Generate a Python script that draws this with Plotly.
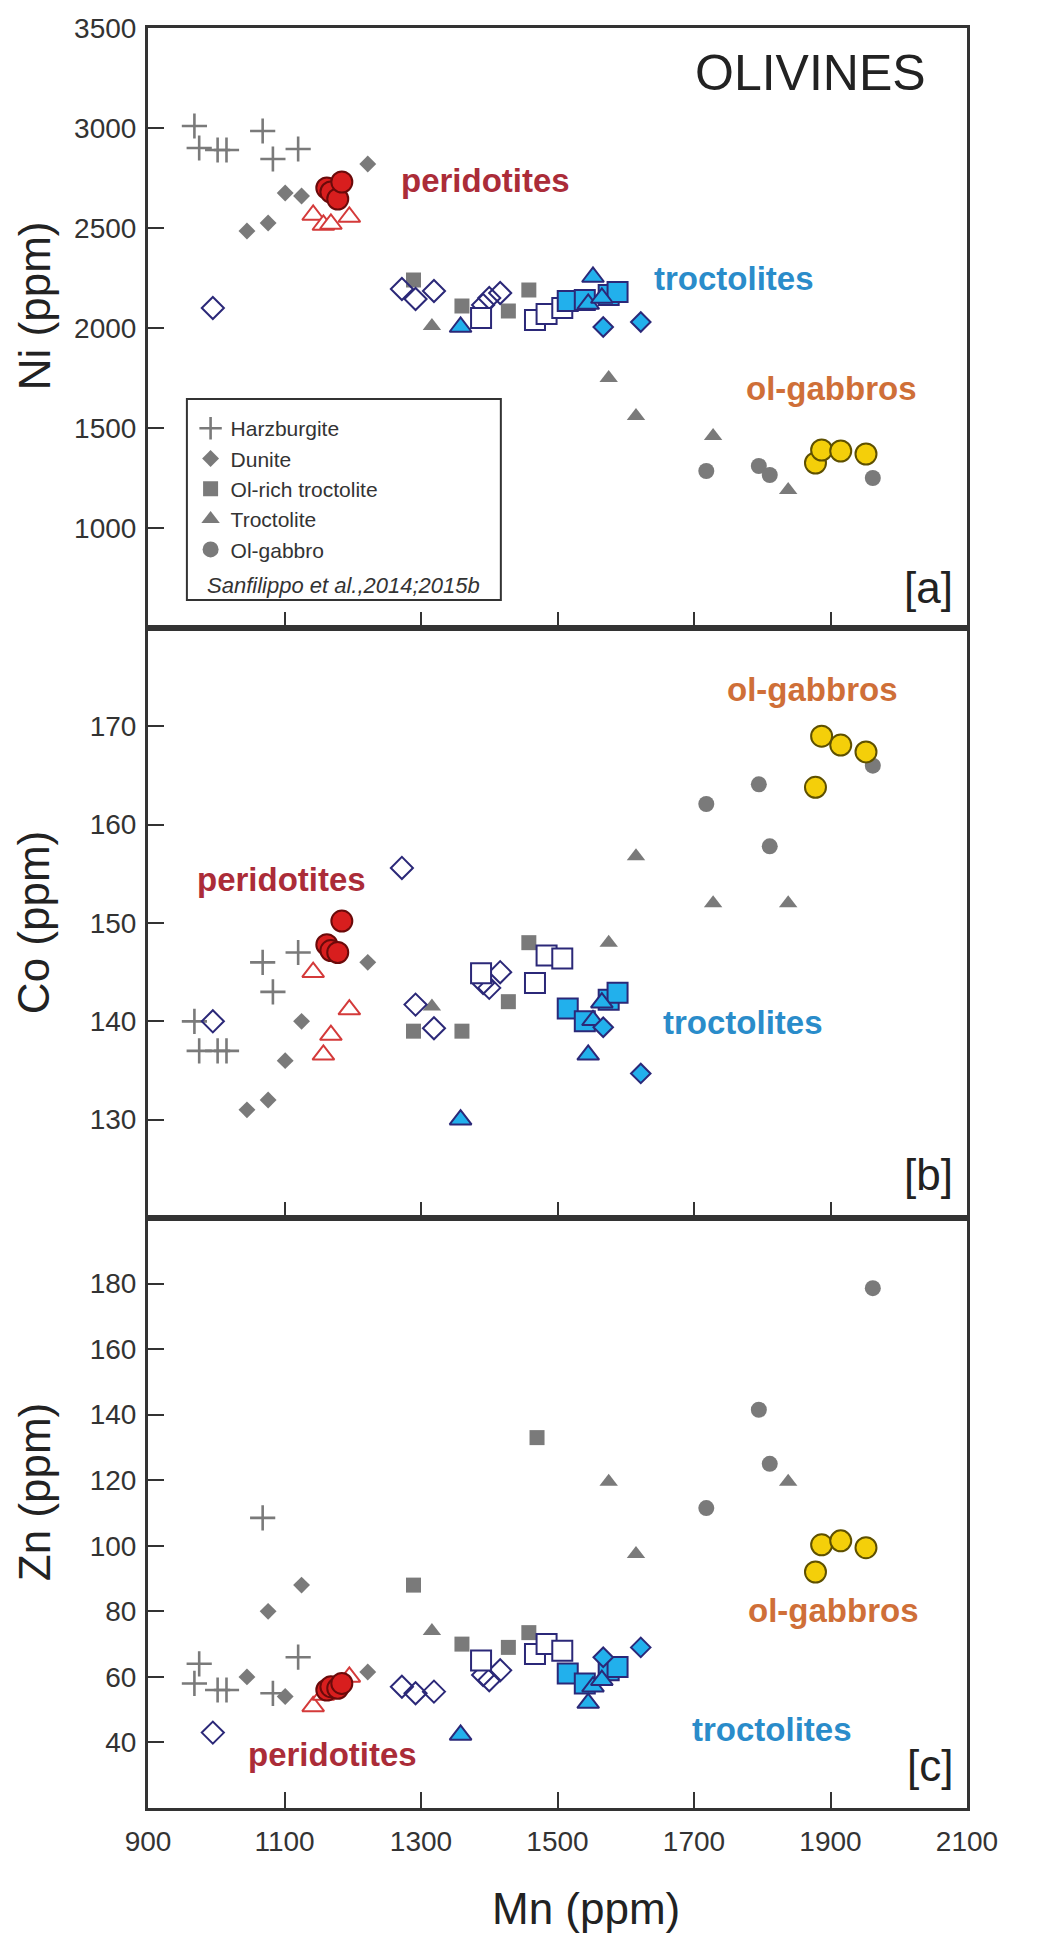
import plotly.graph_objects as go
from plotly.subplots import make_subplots

# ---- Literature olivines (grey symbols, Sanfilippo et al. 2014; 2015b) ----
harz_mn = [968, 975, 1002, 1015, 1068, 1083, 1120]
harz_ni = [3010, 2900, 2890, 2890, 2985, 2845, 2895]
harz_co = [140, 137, 137, 137, 146, 143, 147]
harz_zn = [58, 64, 56, 56, 108.5, 55, 66]

dun_mn = [1045, 1076, 1101, 1125, 1222]
dun_ni = [2485, 2525, 2675, 2660, 2820]
dun_co = [131, 132, 136, 140, 146]
dun_zn = [60, 80, 54, 88, 61.5]

olt_mn = [1289, 1360, 1428, 1458, 1470]
olt_ni = [2240, 2110, 2085, 2190, None]
olt_co = [139, 139, 142, 148, None]
olt_zn = [88, 70, 69, 73.5, 133]

tro_mn = [1316, 1575, 1615, 1728, 1838]
tro_ni = [2010, 1750, 1560, 1460, 1190]
tro_co = [141.5, 148, 156.8, 152, 152]
tro_zn = [74, 119.5, 97.5, None, 119.5]

olg_mn = [1718, 1795, 1811, 1962]
olg_ni = [1285, 1310, 1265, 1250]
olg_co = [162.1, 164.1, 157.8, 166]
olg_zn = [111.5, 141.5, 125, 178.6]

# ---- Studied samples (coloured symbols) ----
per_circ_mn = [1162, 1168, 1178, 1184]
per_circ_ni = [2700, 2680, 2645, 2730]
per_circ_co = [147.8, 147.2, 147, 150.2]
per_circ_zn = [56, 57, 56.5, 58]

per_tri_mn = [1142, 1157, 1168, 1195]
per_tri_ni = [2565, 2515, 2520, 2555]
per_tri_co = [145, 136.6, 138.6, 141.2]
per_tri_zn = [51, 54.5, 57, 60]

nd_mn = [995, 1272, 1292, 1319, 1391, 1400, 1416]
nd_ni = [2100, 2195, 2145, 2185, 2115, 2150, 2175]
nd_co = [140, 155.6, 141.7, 139.3, 143.9, 143.4, 145]
nd_zn = [43, 57, 55, 55.5, 60.6, 59, 62]

nsq_mn = [1388, 1467, 1484, 1507]
nsq_ni = [2050, 2040, 2070, 2100]
nsq_co = [144.9, 143.9, 146.7, 146.4]
nsq_zn = [65, 67, 70, 68]

bsq_mn = [1515, 1540, 1575, 1588]
bsq_ni = [2135, 2140, 2165, 2180]
bsq_co = [141.3, 140.0, 142.2, 142.9]
bsq_zn = [61, 58, 62, 63]

btri_mn = [1358, 1545, 1552, 1565]
btri_ni = [2005, 2120, 2255, 2150]
btri_co = [130, 136.6, 140.1, 141.9]
btri_zn = [42.3, 52, 57, 59]

bdia_mn = [1567, 1622]
bdia_ni = [2005, 2030]
bdia_co = [139.4, 134.7]
bdia_zn = [66, 69]

gab_mn = [1878, 1887, 1915, 1952]
gab_ni = [1325, 1390, 1385, 1370]
gab_co = [163.8, 169, 168.1, 167.4]
gab_zn = [92, 100.3, 101.5, 99.4]

GREY = "#7a7a7a"
NAVY = "#2b2878"
LIGHTBLUE = "#22b0ec"
RED = "#d81e1e"
DARKRED = "#6a0a0a"
YELLOW = "#f4cf0a"
OLIVE = "#5e5000"
AX = "#333333"
FONT = "Liberation Sans, Arial, sans-serif"

fig = make_subplots(rows=3, cols=1, vertical_spacing=0, row_heights=[600, 590, 590])

grey_sets = [
    ("Harzburgite", harz_mn, [harz_ni, harz_co, harz_zn],
     dict(symbol="cross-thin-open", size=18, color=GREY, line=dict(color=GREY, width=2.6))),
    ("Dunite", dun_mn, [dun_ni, dun_co, dun_zn],
     dict(symbol="diamond", size=13, color=GREY, line=dict(width=0))),
    ("Ol-rich troctolite", olt_mn, [olt_ni, olt_co, olt_zn],
     dict(symbol="square", size=15, color=GREY, line=dict(width=0))),
    ("Troctolite", tro_mn, [tro_ni, tro_co, tro_zn],
     dict(symbol="triangle-up", size=16, color=GREY, line=dict(width=0))),
    ("Ol-gabbro", olg_mn, [olg_ni, olg_co, olg_zn],
     dict(symbol="circle", size=16, color=GREY, line=dict(width=0))),
]

sample_sets = [
    (nd_mn, [nd_ni, nd_co, nd_zn],
     dict(symbol="diamond-open", size=17, color=NAVY, line=dict(color=NAVY, width=2))),
    (nsq_mn, [nsq_ni, nsq_co, nsq_zn],
     dict(symbol="square", size=20, color="white", line=dict(color=NAVY, width=2))),
    (bsq_mn, [bsq_ni, bsq_co, bsq_zn],
     dict(symbol="square", size=20, color=LIGHTBLUE, line=dict(color=NAVY, width=2))),
    (btri_mn, [btri_ni, btri_co, btri_zn],
     dict(symbol="triangle-up", size=19, color=LIGHTBLUE, line=dict(color=NAVY, width=2))),
    (bdia_mn, [bdia_ni, bdia_co, bdia_zn],
     dict(symbol="diamond", size=15, color=LIGHTBLUE, line=dict(color=NAVY, width=2))),
    (per_tri_mn, [per_tri_ni, per_tri_co, per_tri_zn],
     dict(symbol="triangle-up", size=19, color="white", line=dict(color="#d43a3a", width=2))),
    (per_circ_mn, [per_circ_ni, per_circ_co, per_circ_zn],
     dict(symbol="circle", size=21, color=RED, line=dict(color=DARKRED, width=2))),
    (gab_mn, [gab_ni, gab_co, gab_zn],
     dict(symbol="circle", size=21, color=YELLOW, line=dict(color=OLIVE, width=2))),
]

for name, mn, ys, mk in grey_sets:
    for row in range(3):
        fig.add_trace(go.Scatter(x=mn, y=ys[row], mode="markers", name=name,
                                 legendgroup=name, showlegend=(row == 0),
                                 marker=mk, hoverinfo="skip"), row=row + 1, col=1)

for mn, ys, mk in sample_sets:
    for row in range(3):
        fig.add_trace(go.Scatter(x=mn, y=ys[row], mode="markers", showlegend=False,
                                 marker=mk, hoverinfo="skip"), row=row + 1, col=1)

y_ranges = [[500, 3500], [120, 180], [20, 200]]
y_ticks = [[1000, 1500, 2000, 2500, 3000, 3500], [130, 140, 150, 160, 170],
           [40, 60, 80, 100, 120, 140, 160, 180]]

for row in range(3):
    fig.update_xaxes(range=[900, 2100], tickvals=list(range(900, 2101, 200)),
                     ticks="inside", ticklen=16, tickwidth=2, tickcolor=AX,
                     showline=True, linecolor=AX, linewidth=3, mirror=True,
                     showgrid=False, zeroline=False,
                     showticklabels=(row == 2), ticklabelstandoff=6,
                     tickfont=dict(family=FONT, size=28, color=AX),
                     row=row + 1, col=1)
    fig.update_yaxes(range=y_ranges[row], tickvals=y_ticks[row],
                     ticks="inside", ticklen=16, tickwidth=2, tickcolor=AX,
                     showline=True, linecolor=AX, linewidth=3, mirror=True,
                     showgrid=False, zeroline=False, ticklabelstandoff=3,
                     tickfont=dict(family=FONT, size=28, color=AX),
                     row=row + 1, col=1)

PER = "#ab2c38"
TRO = "#2a8cca"
GAB = "#cf6f38"

def label(text, x, y, row, color, size=33, bold=True, anchor="center", italic=False):
    suffix = "" if row == 1 else str(row)
    t = "<b>%s</b>" % text if bold else text
    if italic:
        t = "<i>%s</i>" % t
    fig.add_annotation(text=t, x=x, y=y, xref="x" + suffix, yref="y" + suffix,
                       showarrow=False, xanchor=anchor, yanchor="middle",
                       font=dict(family=FONT, size=size, color=color))

# panel [a]
label("peridotites", 1395, 2740, 1, PER)
label("troctolites", 1759, 2250, 1, TRO)
label("ol-gabbros", 1902, 1700, 1, GAB)
label("OLIVINES", 2043, 3275, 1, "#222222", size=50, bold=False, anchor="right")
label("[a]", 2082, 705, 1, "#222222", size=44, bold=False, anchor="right")
label("Sanfilippo et al.,2014;2015b", 1187, 712, 1, "#333333", size=22, bold=False, italic=True)
# panel [b]
label("ol-gabbros", 1874, 173.7, 2, GAB)
label("peridotites", 1095, 154.4, 2, PER)
label("troctolites", 1772, 139.9, 2, TRO)
label("[b]", 2082, 124.4, 2, "#222222", size=44, bold=False, anchor="right")
# panel [c]
label("ol-gabbros", 1904, 80.4, 3, GAB)
label("peridotites", 1171, 36.2, 3, PER)
label("troctolites", 1815, 43.8, 3, TRO)
label("[c]", 2082, 33, 3, "#222222", size=44, bold=False, anchor="right")

# legend frame
fig.add_shape(type="rect", xref="x", yref="y", x0=957, x1=1417, y0=640, y1=1645,
              line=dict(color=AX, width=2), fillcolor="rgba(0,0,0,0)", layer="below")

# axis titles
for text, yp in [("Ni (ppm)", 0.8438), ("Co (ppm)", 0.4972), ("Zn (ppm)", 0.1775)]:
    fig.add_annotation(text=text, x=-0.139, y=yp, xref="paper", yref="paper",
                       textangle=-90, showarrow=False, xanchor="center", yanchor="middle",
                       font=dict(family=FONT, size=44, color="#222222"))
fig.add_annotation(text="Mn (ppm)", x=0.535, y=-0.0562, xref="paper", yref="paper",
                   showarrow=False, xanchor="center", yanchor="middle",
                   font=dict(family=FONT, size=44, color="#222222"))

fig.update_layout(
    width=1039, height=1938,
    margin=dict(l=148, r=72, t=28, b=130),
    paper_bgcolor="white", plot_bgcolor="white",
    legend=dict(x=0.052, y=0.7865, xanchor="left", yanchor="top",
                bgcolor="rgba(0,0,0,0)", borderwidth=0, tracegroupgap=0,
                font=dict(family=FONT, size=21, color="#333333"),
                itemwidth=30),
    font=dict(family=FONT),
)

fig.write_html("out.html")
